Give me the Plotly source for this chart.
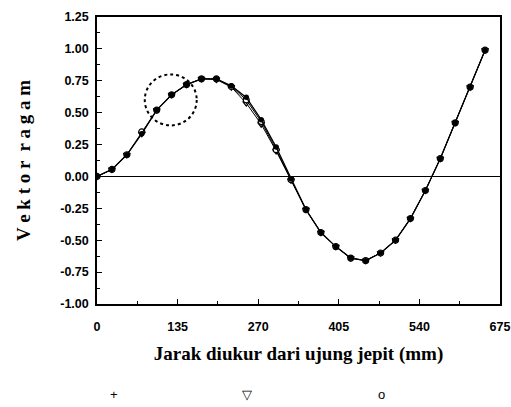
import plotly.graph_objects as go

# ---- data ----
jarak = [0, 25, 50, 75, 100, 125, 150, 175, 200, 225, 250, 275, 300, 325,
         350, 375, 400, 425, 450, 475, 500, 525, 550, 575, 600, 625, 650]
seri_plus = [0.00, 0.055, 0.17, 0.335, 0.52, 0.64, 0.72, 0.765, 0.765, 0.71,
             0.62, 0.445, 0.23, -0.02, -0.26, -0.44, -0.55, -0.64, -0.66,
             -0.60, -0.50, -0.33, -0.11, 0.14, 0.42, 0.70, 0.99]
seri_segitiga = [0.00, 0.055, 0.17, 0.335, 0.52, 0.64, 0.72, 0.765, 0.76, 0.70,
                 0.575, 0.41, 0.20, -0.03, -0.26, -0.44, -0.55, -0.64, -0.66,
                 -0.60, -0.50, -0.33, -0.11, 0.14, 0.42, 0.70, 0.99]
seri_lingkaran = [0.00, 0.055, 0.17, 0.35, 0.52, 0.64, 0.72, 0.765, 0.765, 0.705,
                  0.60, 0.43, 0.21, -0.025, -0.26, -0.44, -0.55, -0.64, -0.66,
                  -0.60, -0.50, -0.33, -0.11, 0.14, 0.42, 0.70, 0.99]

x_ticks = [0, 135, 270, 405, 540, 675]
x_ticklabels = ["0", "135", "270", "405", "540", "675"]
x_minor = [67.5, 202.5, 337.5, 472.5, 607.5]
y_ticks = [1.25, 1.00, 0.75, 0.50, 0.25, 0.00, -0.25, -0.50, -0.75, -1.00]
y_ticklabels = ["1.25", "1.00", "0.75", "0.50", "0.25", "0.00",
                "-0.25", "-0.50", "-0.75", "-1.00"]
y_minor = [1.125, 0.875, 0.625, 0.375, 0.125, -0.125, -0.375, -0.625, -0.875]

legend_symbols = ["+", "\u25bd", "o"]
legend_x = [0.042, 0.372, 0.707]

# highlighted region (dotted circle), data coordinates
circle_x = [80, 167]
circle_y = [0.40, 0.80]

fig = go.Figure()

fig.add_trace(go.Scatter(
    x=jarak, y=seri_segitiga, mode="lines+markers", name="\u25bd",
    line=dict(color="black", width=1),
    marker=dict(symbol="triangle-down-open", size=6, color="black",
                line=dict(width=1.2))))
fig.add_trace(go.Scatter(
    x=jarak, y=seri_lingkaran, mode="lines+markers", name="o",
    line=dict(color="black", width=1),
    marker=dict(symbol="circle", size=6, color="white",
                line=dict(color="black", width=1.2))))
fig.add_trace(go.Scatter(
    x=jarak, y=seri_plus, mode="lines+markers", name="+",
    line=dict(color="black", width=1.3),
    marker=dict(symbol="circle", size=5.5, color="black")))

fig.add_shape(type="circle", xref="x", yref="y",
              x0=circle_x[0], x1=circle_x[1], y0=circle_y[0], y1=circle_y[1],
              line=dict(color="black", width=2, dash="dot"))

for s, lx in zip(legend_symbols, legend_x):
    fig.add_annotation(text=s, x=lx, y=-0.317, xref="paper", yref="paper",
                       xanchor="center", yanchor="middle", showarrow=False,
                       font=dict(family="Liberation Sans", size=13, color="black"))

tick_font = dict(family="Liberation Sans", size=12.5, color="black", weight="bold")
title_font = dict(family="Liberation Serif", size=19, color="black", weight="bold")

fig.update_layout(
    width=511, height=407,
    margin=dict(l=97, r=11, t=17, b=103),
    paper_bgcolor="white", plot_bgcolor="white",
    showlegend=False,
    xaxis=dict(
        range=[0, 675], tickvals=x_ticks, ticktext=x_ticklabels,
        ticks="inside", ticklen=5, tickcolor="black",
        minor=dict(tickvals=x_minor, ticks="inside", ticklen=3, tickcolor="black"),
        showgrid=False, zeroline=False, automargin=False,
        showline=True, linecolor="black", linewidth=1.5, mirror=True,
        tickfont=tick_font, ticklabelstandoff=10,
        title=dict(text="Jarak diukur dari ujung jepit (mm)", font=title_font,
                   standoff=14),
    ),
    yaxis=dict(
        range=[-1.0, 1.25], tickvals=y_ticks, ticktext=y_ticklabels,
        ticks="inside", ticklen=5, tickcolor="black",
        minor=dict(tickvals=y_minor, ticks="inside", ticklen=3, tickcolor="black"),
        showgrid=False, zeroline=True, zerolinecolor="black", zerolinewidth=1.2,
        showline=True, linecolor="black", linewidth=1.5, mirror=True,
        tickfont=tick_font, ticklabelstandoff=4, automargin=False,
        title=dict(text="V e k t o r  r a g a m", font=title_font, standoff=25),
    ),
)

fig.write_html("out.html", config={"displayModeBar": False},
               post_script="document.body.style.margin='0px';document.body.style.overflow='hidden';")
